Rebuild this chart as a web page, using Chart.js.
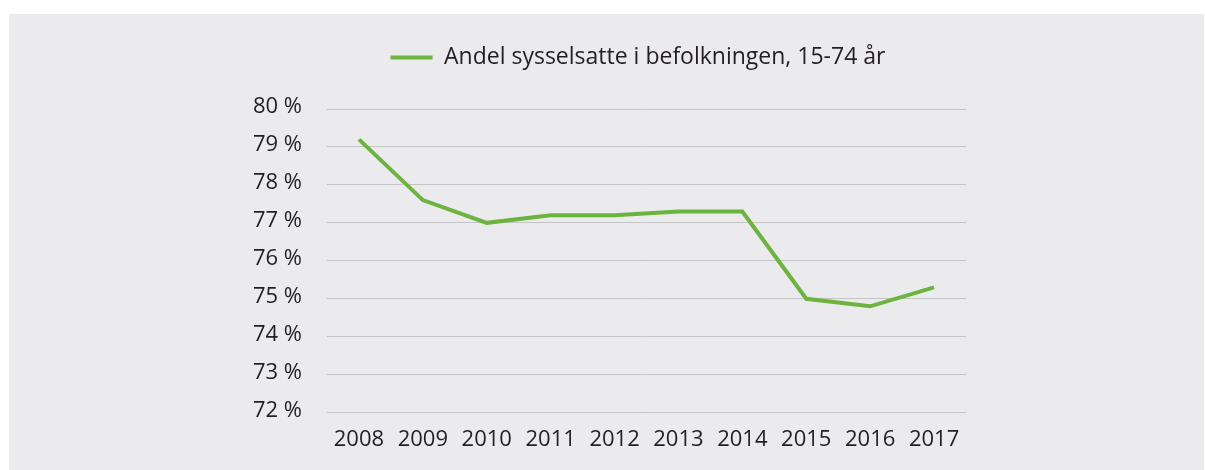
<!DOCTYPE html>
<html lang="no">
<head>
<meta charset="utf-8">
<title>Andel sysselsatte</title>
<script src="https://cdn.jsdelivr.net/npm/chart.js@4/dist/chart.umd.min.js"></script>
<style>
  html, body { margin: 0; padding: 0; background: #fff; }
  #panel {
    position: absolute; left: 9px; top: 14px;
    width: 1195px; height: 456px;
    background: #ebebed;
  }
  #ramme {
    position: absolute; left: 241px; top: 0;
    width: 776px; height: 456px;
  }
</style>
</head>
<body>
<div id="panel"><div id="ramme"><canvas id="grafico-sysselsatte"></canvas></div></div>
<script>
// Andel sysselsatte i befolkningen, 15-74 år (prosent)
const aar = ['2008', '2009', '2010', '2011', '2012', '2013', '2014', '2015', '2016', '2017'];
const andel = [79.2, 77.6, 77.0, 77.2, 77.2, 77.3, 77.3, 75.0, 74.8, 75.3];
const serieNavn = 'Andel sysselsatte i befolkningen, 15-74 år';
const yMin = 72, yMax = 80, ySteg = 1;

const tekstFarge = '#231f20';
const gronn = '#6cb43f';
const font = { family: '"Open Sans", sans-serif', size: 22 };

// litt luft under legenden
const legendeLuft = {
  id: 'legendeLuft',
  beforeInit(chart) {
    const fit = chart.legend.fit;
    chart.legend.fit = function() {
      fit.bind(chart.legend)();
      this.height += 30;
    };
  }
};

document.addEventListener('DOMContentLoaded', function() {
  const ctx = document.getElementById('grafico-sysselsatte').getContext('2d');
  new Chart(ctx, {
    type: 'line',
    data: {
      labels: aar,
      datasets: [{
        label: serieNavn,
        data: andel,
        borderColor: gronn,
        backgroundColor: gronn,
        borderWidth: 4,
        pointRadius: 0,
        tension: 0,
        fill: false
      }]
    },
    options: {
      responsive: true,
      maintainAspectRatio: false,
      animation: false,
      layout: { padding: { left: 0, right: 0, top: 22, bottom: 3 } },
      plugins: {
        legend: {
          position: 'top',
          labels: {
            usePointStyle: true,
            pointStyle: 'line',
            pointStyleWidth: 42,
            boxHeight: 4,
            color: tekstFarge,
            font: { family: font.family, size: 23 }
          }
        },
        tooltip: { enabled: false }
      },
      scales: {
        x: {
          offset: true,
          grid: { display: false, drawTicks: false },
          border: { display: false },
          ticks: { color: tekstFarge, font: font, padding: 14, maxRotation: 0 }
        },
        y: {
          min: yMin,
          max: yMax,
          afterFit(scale) { scale.width = 77; },
          grid: { color: '#c4c4c6', lineWidth: 1, drawTicks: false },
          border: { display: false },
          ticks: {
            stepSize: ySteg,
            color: tekstFarge,
            font: font,
            padding: 25,
            labelOffset: -2,
            callback: v => v + ' %'
          }
        },
        // tom akse til høyre, gir luft mellom plottet og kanten
        hoyre: {
          position: 'right',
          afterFit(scale) { scale.width = 60; },
          grid: { display: false },
          border: { display: false },
          ticks: { display: false }
        }
      }
    },
    plugins: [legendeLuft]
  });
});
</script>
</body>
</html>
